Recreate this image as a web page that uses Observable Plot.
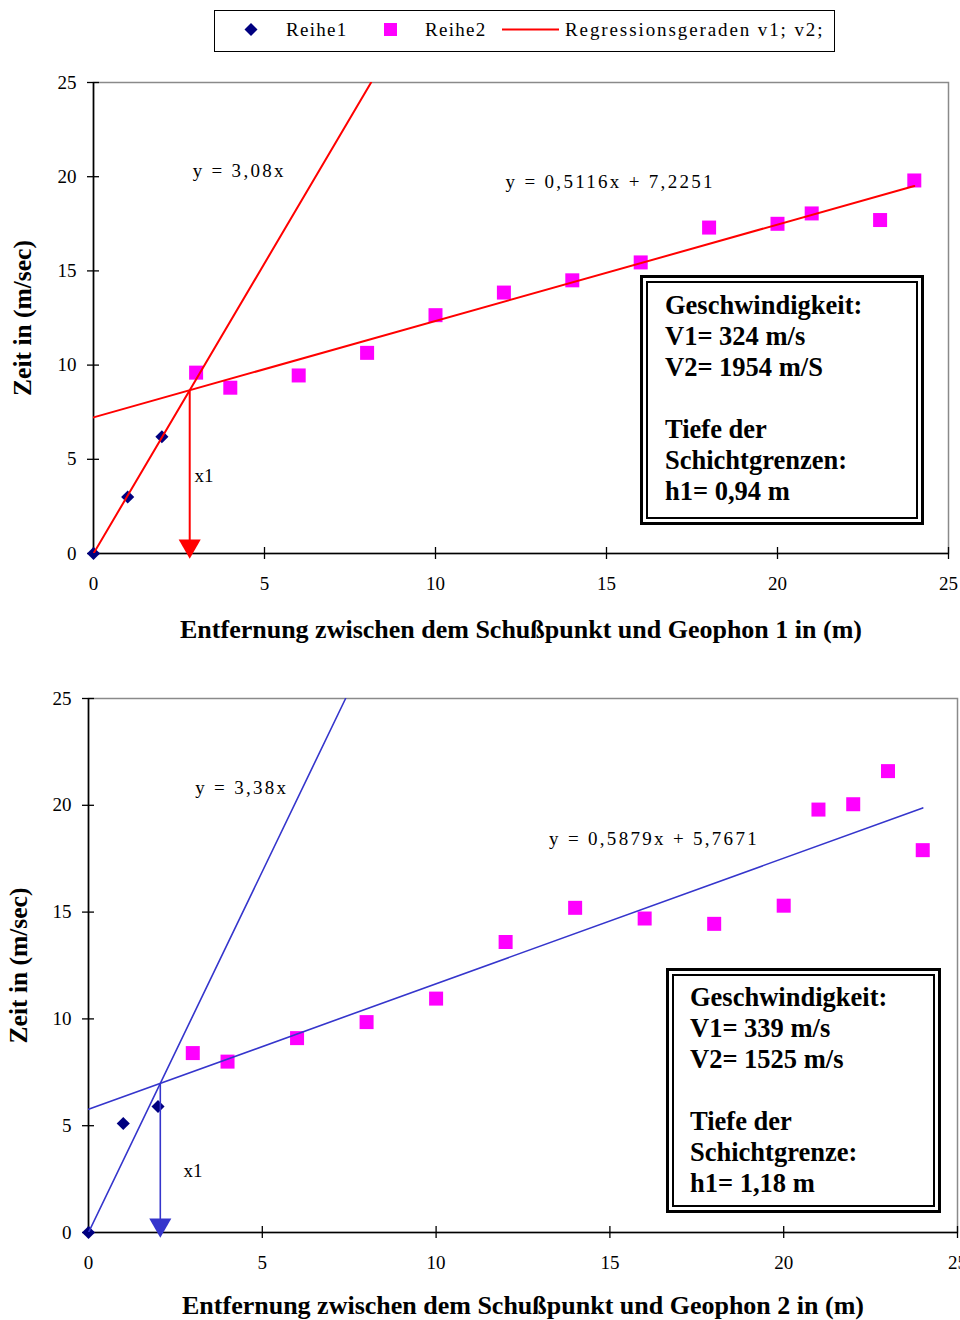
<!DOCTYPE html>
<html><head><meta charset="utf-8">
<script src="https://cdn.jsdelivr.net/npm/d3@7"></script>
<script src="https://cdn.jsdelivr.net/npm/@observablehq/plot@0.6"></script>
<style>
body{margin:0;background:#fff;}
#page{position:relative;width:960px;height:1320px;overflow:hidden;font-family:"Liberation Serif","Times New Roman",serif;background:#fff;}
.chart{position:absolute;left:0;z-index:0;}
#legend{position:absolute;left:214px;top:10px;width:619px;height:40px;border:1px solid #000;background:#fff;z-index:2;font-size:19px;letter-spacing:1.3px;}
#legend .long{letter-spacing:1.9px;}
.li{position:absolute;top:0;line-height:37px;white-space:nowrap;}
.info{position:absolute;z-index:2;border:3px solid #000;padding:3px;background:#fff;box-sizing:border-box;}
.info .inner{border:2px solid #000;height:100%;box-sizing:border-box;font-weight:bold;font-size:26.5px;line-height:31px;white-space:pre-line;}
</style>
</head><body><div id="page"></div>
<script>
// ---- data ----
const xTicks = [0, 5, 10, 15, 20, 25];
const yTicks = [0, 5, 10, 15, 20, 25];
const legendLabels = ["Reihe1", "Reihe2", "Regressionsgeraden v1; v2;"];
const yTitle = "Zeit in (m/sec)";

// chart 1 (Geophon 1)
const c1Reihe1X = [0, 1, 2];
const c1Reihe1Y = [0, 3.0, 6.2];
const c1Reihe2X = [3, 4, 6, 8, 10, 12, 14, 16, 18, 20, 21, 23, 24];
const c1Reihe2Y = [9.6, 8.8, 9.45, 10.65, 12.65, 13.85, 14.5, 15.45, 17.3, 17.5, 18.05, 17.7, 19.8];
const c1Slope1 = 3.08;
const c1Slope2 = 0.5116;
const c1Intercept2 = 7.2251;
const c1XTitle = "Entfernung zwischen dem Schußpunkt und Geophon 1 in (m)";
const c1Info = ["Geschwindigkeit:", "V1= 324 m/s", "V2= 1954 m/S", "", "Tiefe der", "Schichtgrenzen:", "h1= 0,94 m"];

// chart 2 (Geophon 2)
const c2Reihe1X = [0, 1, 2];
const c2Reihe1Y = [0, 5.1, 5.9];
const c2Reihe2X = [3, 4, 6, 8, 10, 12, 14, 16, 18, 20, 21, 22, 23, 24];
const c2Reihe2Y = [8.4, 8.0, 9.1, 9.85, 10.95, 13.6, 15.2, 14.7, 14.45, 15.3, 19.8, 20.05, 21.6, 17.9];
const c2Slope1 = 3.38;
const c2Slope2 = 0.5879;
const c2Intercept2 = 5.7671;
const c2XTitle = "Entfernung zwischen dem Schußpunkt und Geophon 2 in (m)";
const c2Info = ["Geschwindigkeit:", "V1= 339 m/s", "V2= 1525 m/s", "", "Tiefe der", "Schichtgrenze:", "h1= 1,18 m"];

// ---- styles / layout ----
const NAVY = "#000080", MAGENTA = "#ff00ff";
const page = document.getElementById("page");
const fmt = v => String(v).replace(".", ",");
const diamondSym = d3.symbolDiamond2 || "diamond";

function makeChart(o) {
  const s1 = o.r1x.map((x, i) => ({x, y: o.r1y[i]}));
  const s2 = o.r2x.map((x, i) => ({x, y: o.r2y[i]}));
  const xi = o.b / (o.m1 - o.m2);
  const yi = o.m1 * xi;
  const xMax = d3.max(o.r2x);
  const line1 = [{x: 0, y: 0}, {x: 25 / o.m1, y: 25}];
  const line2 = [{x: 0, y: o.b}, {x: xMax, y: o.m2 * xMax + o.b}];
  const eq1 = `y = ${fmt(o.m1)}x`;
  const eq2 = `y = ${fmt(o.m2)}x + ${fmt(o.b)}`;
  const plot = Plot.plot({
    width: 960, height: 660,
    marginTop: o.mt, marginBottom: o.mb, marginLeft: o.ml, marginRight: o.mr,
    x: {domain: [0, 25]},
    y: {domain: [0, 25]},
    style: {fontFamily: "'Liberation Serif', serif", fontSize: "19px", background: "transparent", overflow: "visible", color: "#000"},
    marks: [
      Plot.frame({stroke: "#8a8a8a", strokeWidth: 1.5}),
      Plot.axisX({ticks: xTicks, tickSize: 12, dy: -6, tickPadding: 17, label: null, tickFormat: d => d, strokeWidth: 1.3}),
      Plot.axisY({ticks: yTicks, tickSize: 12, dx: 6, tickPadding: 11, label: null, tickFormat: d => d, strokeWidth: 1.3}),
      Plot.ruleX([0], {stroke: "#000", strokeWidth: 1.6}),
      Plot.ruleY([0], {stroke: "#000", strokeWidth: 1.6}),
      Plot.dot(s2, {x: "x", y: "y", symbol: "square", r: 7.9, fill: MAGENTA}),
      Plot.dot(s1, {x: "x", y: "y", symbol: diamondSym, r: 5.9, fill: NAVY}),
      Plot.line(line1, {x: "x", y: "y", stroke: o.color, strokeWidth: o.lw, clip: true}),
      Plot.line(line2, {x: "x", y: "y", stroke: o.color, strokeWidth: o.lw, clip: true}),
      Plot.link([{x1: xi, y1: yi, x2: xi, y2: 0}], {x1: "x1", y1: "y1", x2: "x2", y2: "y2", stroke: o.color, strokeWidth: o.lw}),
      Plot.dot([{x: xi, y: 0}], {x: "x", y: "y", symbol: "triangle", rotate: 180, r: 8.2, fill: o.color, dy: -7.5}),
      Plot.text([eq1], {x: o.a1[0], y: o.a1[1], textAnchor: "start", fontSize: 19}),
      Plot.text([eq2], {x: o.a2[0], y: o.a2[1], textAnchor: "start", fontSize: 19}),
      Plot.text(["x1"], {x: o.a3[0], y: o.a3[1], textAnchor: "start", fontSize: 19}),
      Plot.text([yTitle], {frameAnchor: "left", textAnchor: "middle", lineAnchor: "middle", rotate: -90, dx: o.ytdx, fontWeight: "bold", fontSize: 25.5}),
      Plot.text([o.xTitle], {frameAnchor: "bottom", textAnchor: "middle", lineAnchor: "middle", dy: o.xtdy, fontWeight: "bold", fontSize: 26})
    ]
  });
  plot.querySelectorAll("text").forEach(t => {
    if (t.textContent === eq1 || t.textContent === eq2) t.setAttribute("letter-spacing", "2.3");
  });
  plot.classList.add("chart");
  plot.style.top = o.top + "px";
  page.appendChild(plot);

  const box = document.createElement("div");
  box.className = "info";
  Object.assign(box.style, {left: o.box[0] + "px", top: o.box[1] + "px", width: o.box[2] + "px", height: o.box[3] + "px"});
  const inner = document.createElement("div");
  inner.className = "inner";
  inner.style.padding = `${o.box[5]}px 0 0 ${o.box[4]}px`;
  inner.textContent = o.info.join("\n");
  box.appendChild(inner);
  page.appendChild(box);
}

makeChart({
  r1x: c1Reihe1X, r1y: c1Reihe1Y, r2x: c1Reihe2X, r2y: c1Reihe2Y,
  m1: c1Slope1, m2: c1Slope2, b: c1Intercept2, xTitle: c1XTitle, info: c1Info,
  color: "#ff0000", lw: 2, top: 0,
  mt: 82, mb: 107, ml: 93, mr: 12, ytdx: -71, xtdy: 76,
  a1: [2.9, 20.3], a2: [12.05, 19.75], a3: [2.95, 4.13],
  box: [640, 275, 284, 250, 17, 7]
});
makeChart({
  r1x: c2Reihe1X, r1y: c2Reihe1Y, r2x: c2Reihe2X, r2y: c2Reihe2Y,
  m1: c2Slope1, m2: c2Slope2, b: c2Intercept2, xTitle: c2XTitle, info: c2Info,
  color: "#3535cc", lw: 1.6, top: 660,
  mt: 38, mb: 88, ml: 88, mr: 3, ytdx: -70, xtdy: 73,
  a1: [3.07, 20.83], a2: [13.25, 18.45], a3: [2.73, 2.9],
  box: [666, 968, 275, 245, 16, 6]
});

// legend
const legend = document.createElement("div");
legend.id = "legend";
const sw = (left, svg) => `<span class="li" style="left:${left}px">${svg}</span>`;
legend.innerHTML =
  sw(29, `<svg width="14" height="40" style="vertical-align:top"><path d="M7 12 L13.5 18.5 L7 25 L0.5 18.5Z" fill="${NAVY}"/></svg>`) +
  `<span class="li" style="left:71px">${legendLabels[0]}</span>` +
  sw(169, `<svg width="14" height="40" style="vertical-align:top"><rect x="0" y="12" width="13" height="13" fill="${MAGENTA}"/></svg>`) +
  `<span class="li" style="left:210px">${legendLabels[1]}</span>` +
  sw(287, `<svg width="57" height="40" style="vertical-align:top"><line x1="0" x2="57" y1="18.5" y2="18.5" stroke="#ff0000" stroke-width="2"/></svg>`) +
  `<span class="li long" style="left:350px">${legendLabels[2]}</span>`;
page.appendChild(legend);
</script>
</body></html>
